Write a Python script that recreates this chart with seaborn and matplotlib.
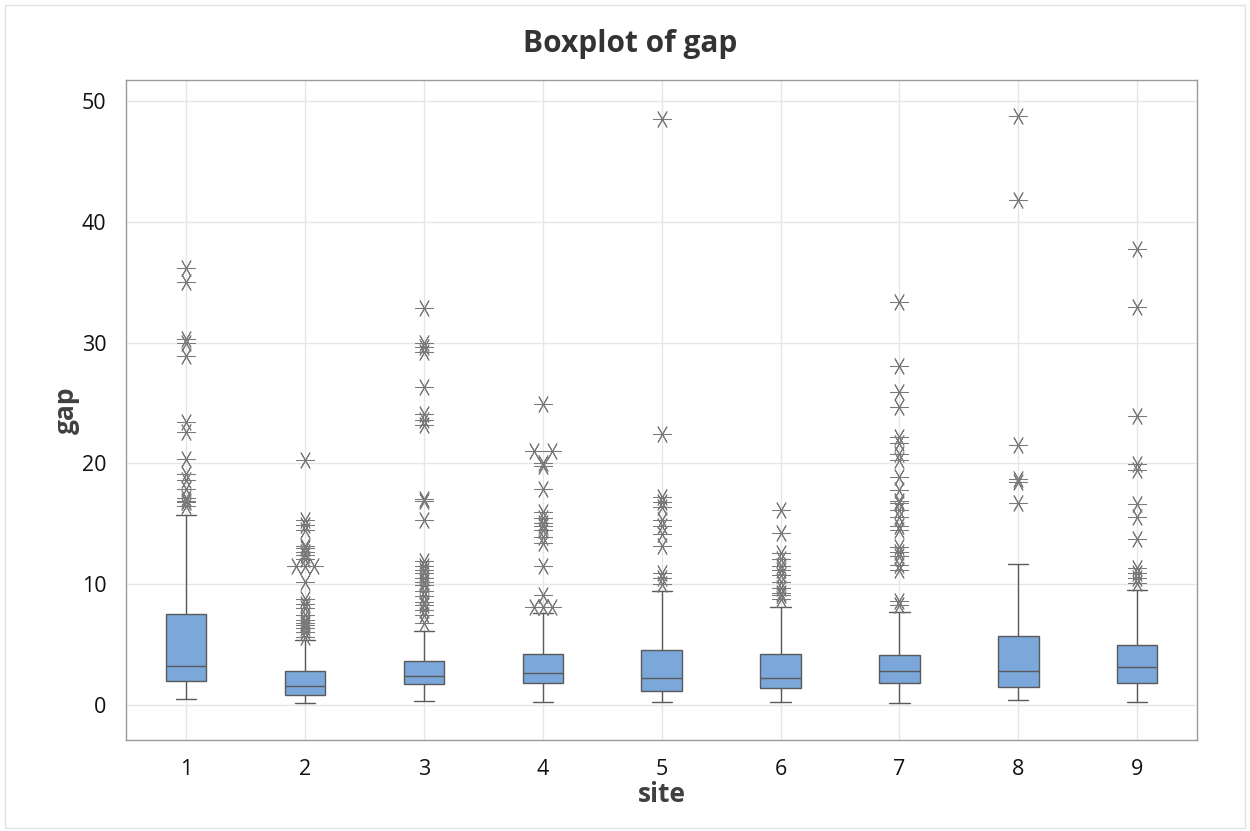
import numpy as np
import pandas as pd
import matplotlib
matplotlib.use("Agg")
import matplotlib.pyplot as plt
import seaborn as sns
from matplotlib.patches import Rectangle

# ---- data ----
sites = [1, 2, 3, 4, 5, 6, 7, 8, 9]
whisker_low = [0.47, 0.14, 0.36, 0.27, 0.28, 0.28, 0.14, 0.41, 0.28]
q1 = [1.96, 0.80, 1.74, 1.80, 1.19, 1.38, 1.82, 1.46, 1.82]
median = [3.25, 1.55, 2.40, 2.62, 2.20, 2.20, 2.81, 2.81, 3.12]
q3 = [7.56, 2.81, 3.64, 4.22, 4.55, 4.22, 4.17, 5.74, 4.94]
whisker_high = [15.7, 5.4, 6.15, 7.6, 9.4, 8.1, 7.7, 11.7, 9.5]

outliers_1 = [36.2, 35.0, 30.3, 30.0, 28.9, 23.4, 22.6, 20.4, 19.1, 18.6, 17.9,
              17.1, 16.9, 16.8, 16.5]
outliers_2 = [20.3, 15.3, 14.9, 14.5, 13.2, 13.0, 12.7, 12.4, 12.1, 11.5, 11.5,
              11.5, 10.2, 8.8, 8.4, 8.0, 7.45, 7.0, 6.8, 6.6, 6.35, 6.07, 5.65]
outliers_3 = [32.9, 30.0, 29.6, 29.2, 26.3, 24.1, 23.6, 23.2, 17.05, 16.9, 15.3,
              11.9, 11.5, 11.2, 10.9, 10.5, 10.2, 9.9, 9.4, 9.0, 8.55, 8.3, 7.9,
              7.45, 6.76]
outliers_4 = [24.9, 21.0, 21.0, 20.06, 19.8, 17.85, 16.0, 15.45, 15.1, 14.8, 14.5,
              13.9, 13.4, 11.5, 9.1, 8.1, 8.1, 8.1]
outliers_5 = [48.5, 22.4, 17.25, 16.8, 16.35, 15.3, 14.8, 14.15, 13.2, 10.95,
              10.5, 10.0]
outliers_6 = [16.1, 14.2, 12.55, 12.05, 11.5, 11.2, 10.8, 10.2, 9.7, 9.3, 9.1, 8.8]
outliers_7 = [33.4, 28.06, 25.9, 24.7, 22.2, 21.7, 20.8, 20.3, 18.85, 17.8, 16.9,
              16.75, 16.1, 15.6, 14.8, 14.5, 13.1, 12.7, 12.3, 11.6, 11.2, 8.6, 8.3]
outliers_8 = [48.76, 41.8, 21.5, 18.7, 18.5, 16.75]
outliers_9 = [37.75, 32.95, 23.9, 19.95, 19.45, 16.6, 15.6, 13.75, 11.3, 10.9,
              10.5, 10.1]
outliers = [outliers_1, outliers_2, outliers_3, outliers_4, outliers_5,
            outliers_6, outliers_7, outliers_8, outliers_9]

y_ticks = [0, 10, 20, 30, 40, 50]

# ---- tables built from the arrays ----
box_rows = []
for s, a, b, c, d, e in zip(sites, whisker_low, q1, median, q3, whisker_high):
    for v in (a, b, c, d, e):
        box_rows.append({"site": s, "gap": v})
box_df = pd.DataFrame(box_rows)

out_rows = []
for s, vals in zip(sites, outliers):
    uniq, counts = np.unique(vals, return_counts=True)
    for u, k in zip(uniq, counts):
        offs = np.linspace(-0.075, 0.075, k) if k > 1 else [0.0]
        for o in offs:
            out_rows.append({"x": s + o, "gap": u})
out_df = pd.DataFrame(out_rows)

# ---- style ----
sns.set_theme(style="white")
plt.rcParams["font.family"] = ["Open Sans", "DejaVu Sans"]

fig = plt.figure(figsize=(12.5, 8.31), dpi=100)
ax = fig.add_axes([126 / 1250, 1 - 740 / 831, (1197 - 126) / 1250, (740 - 80) / 831])

box_color = "#7BA7DA"
line_color = "#5a5a5a"

sns.boxplot(data=box_df, x="site", y="gap", native_scale=True, whis=(0, 100),
            width=0.34, color=box_color, saturation=1, linecolor=line_color,
            linewidth=1.0, fliersize=0, ax=ax, zorder=3)

sns.scatterplot(data=out_df, x="x", y="gap", marker=(6, 2, 90), s=160,
                color="#7a7a7a", linewidth=0.75, ax=ax, zorder=4, legend=False)

ax.set_xlim(0.495, 9.503)
ax.set_ylim(-2.9, 51.74)
ax.set_xticks(sites)
ax.set_xticklabels([str(s) for s in sites])
ax.set_yticks(y_ticks)

ax.grid(True, color="#e6e6e6", linewidth=1.0, zorder=0)
ax.set_axisbelow(True)
for sp in ax.spines.values():
    sp.set_color("#9a9a9a")
    sp.set_linewidth(1.0)
ax.tick_params(axis="both", direction="out", length=6, width=1, color="#9a9a9a",
               labelsize=15.5, labelcolor="#111111", pad=8)

ax.set_xlabel("site", fontsize=19, fontweight="bold", color="#404040")
ax.set_ylabel("gap", fontsize=19, fontweight="bold", color="#404040")
ax.xaxis.set_label_coords(0.5, (740 - 795) / 660)
ax.xaxis.label.set_va("center")
ax.yaxis.set_label_coords((66 - 126) / 1071, 0.5)
ax.yaxis.label.set_va("center")

fig.text(0.504, 1 - 44 / 831, "Boxplot of gap", ha="center", va="center",
         fontsize=21.5, fontweight="bold", color="#333333")

fig.patches.append(Rectangle((5 / 1250, 3 / 831), 1240 / 1250, 823 / 831,
                             transform=fig.transFigure, fill=False,
                             edgecolor="#e2e2e2", linewidth=1.0))

fig.savefig("out.png", dpi=100)
